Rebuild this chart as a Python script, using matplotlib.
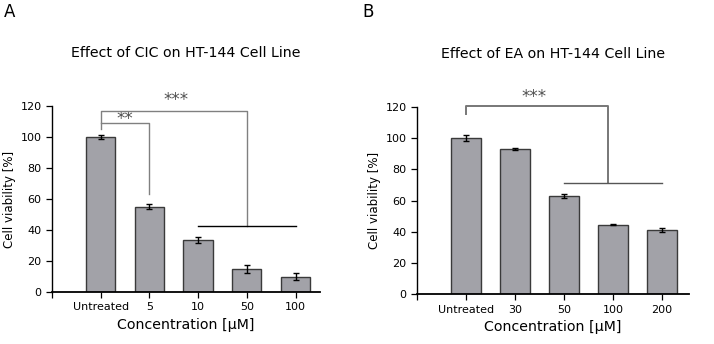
import matplotlib
matplotlib.use("Agg")
import matplotlib.pyplot as plt

cats_a = ["Untreated", "5", "10", "50", "100"]
vals_a = [100, 55, 33.5, 15, 10]
err_a = [1.0, 1.5, 2.0, 2.5, 2.5]

cats_b = ["Untreated", "30", "50", "100", "200"]
vals_b = [100, 93, 63, 44.5, 41]
err_b = [1.8, 0.5, 1.5, 0.4, 1.3]

title_a = "Effect of CIC on HT-144 Cell Line"
title_b = "Effect of EA on HT-144 Cell Line"
yticks = [0, 20, 40, 60, 80, 100, 120]

BAR = "#a2a2a8"
EDGE = "#3a3a3a"
GRAY = "#808080"
STAR = "#505050"

fig = plt.figure(figsize=(7.14, 3.44), dpi=100)
axA = fig.add_axes([0.0728, 0.151, 0.3752, 0.541])
axB = fig.add_axes([0.584, 0.145, 0.381, 0.544])


def draw(ax, cats, vals, errs, title, xlim):
    x = list(range(len(cats)))
    ax.bar(x, vals, width=0.6, color=BAR, edgecolor=EDGE, linewidth=1.0, zorder=2)
    ax.errorbar(x, vals, yerr=errs, fmt="none", ecolor="black", elinewidth=1.0,
                capsize=2.5, capthick=1.0, zorder=3)
    ax.set_xlim(*xlim)
    ax.set_ylim(0, 120)
    ax.set_yticks(yticks)
    ax.set_xticks([-1] + x)
    ax.set_xticklabels([""] + cats)
    for s in ["top", "right"]:
        ax.spines[s].set_visible(False)
    ax.spines["bottom"].set_linewidth(1.3)
    ax.spines["left"].set_linewidth(1.0)
    ax.tick_params(axis="both", labelsize=8, length=4, width=0.9, direction="out")
    ax.set_ylabel("Cell viability [%]", fontsize=8.5, labelpad=3)
    ax.set_xlabel("Concentration [µM]", fontsize=10.2, labelpad=4)
    ax.set_title(title, fontsize=10.2, pad=35)


draw(axA, cats_a, vals_a, err_a, title_a, (-1.0, 4.5))
draw(axB, cats_b, vals_b, err_b, title_b, (-1.0, 4.55))

# Panel A significance brackets
kw = dict(clip_on=False, zorder=4)
axA.plot([0, 0, 3, 3], [105, 117, 117, 42.5], color=GRAY, lw=1.0, **kw)
axA.plot([0, 1, 1], [108.8, 108.8, 63], color=GRAY, lw=1.0, **kw)
axA.plot([2, 4], [42.5, 42.5], color="black", lw=1.0, **kw)
axA.text(1.55, 120.5, "***", ha="center", va="baseline", fontsize=12, color=STAR)
axA.text(0.5, 108.5, "**", ha="center", va="baseline", fontsize=12, color=STAR)

# Panel B significance brackets
axB.plot([0, 0, 2.9, 2.9], [115.5, 120.5, 120.5, 71], color="#777777", lw=1.4, **kw)
axB.plot([2, 4], [71, 71], color="#555555", lw=1.0, **kw)
axB.text(1.39, 123.5, "***", ha="center", va="baseline", fontsize=12, color=STAR)

fig.text(0.005, 0.965, "A", fontsize=12, ha="left", va="center")
fig.text(0.507, 0.965, "B", fontsize=12, ha="left", va="center")

fig.savefig("out.png", dpi=100)
